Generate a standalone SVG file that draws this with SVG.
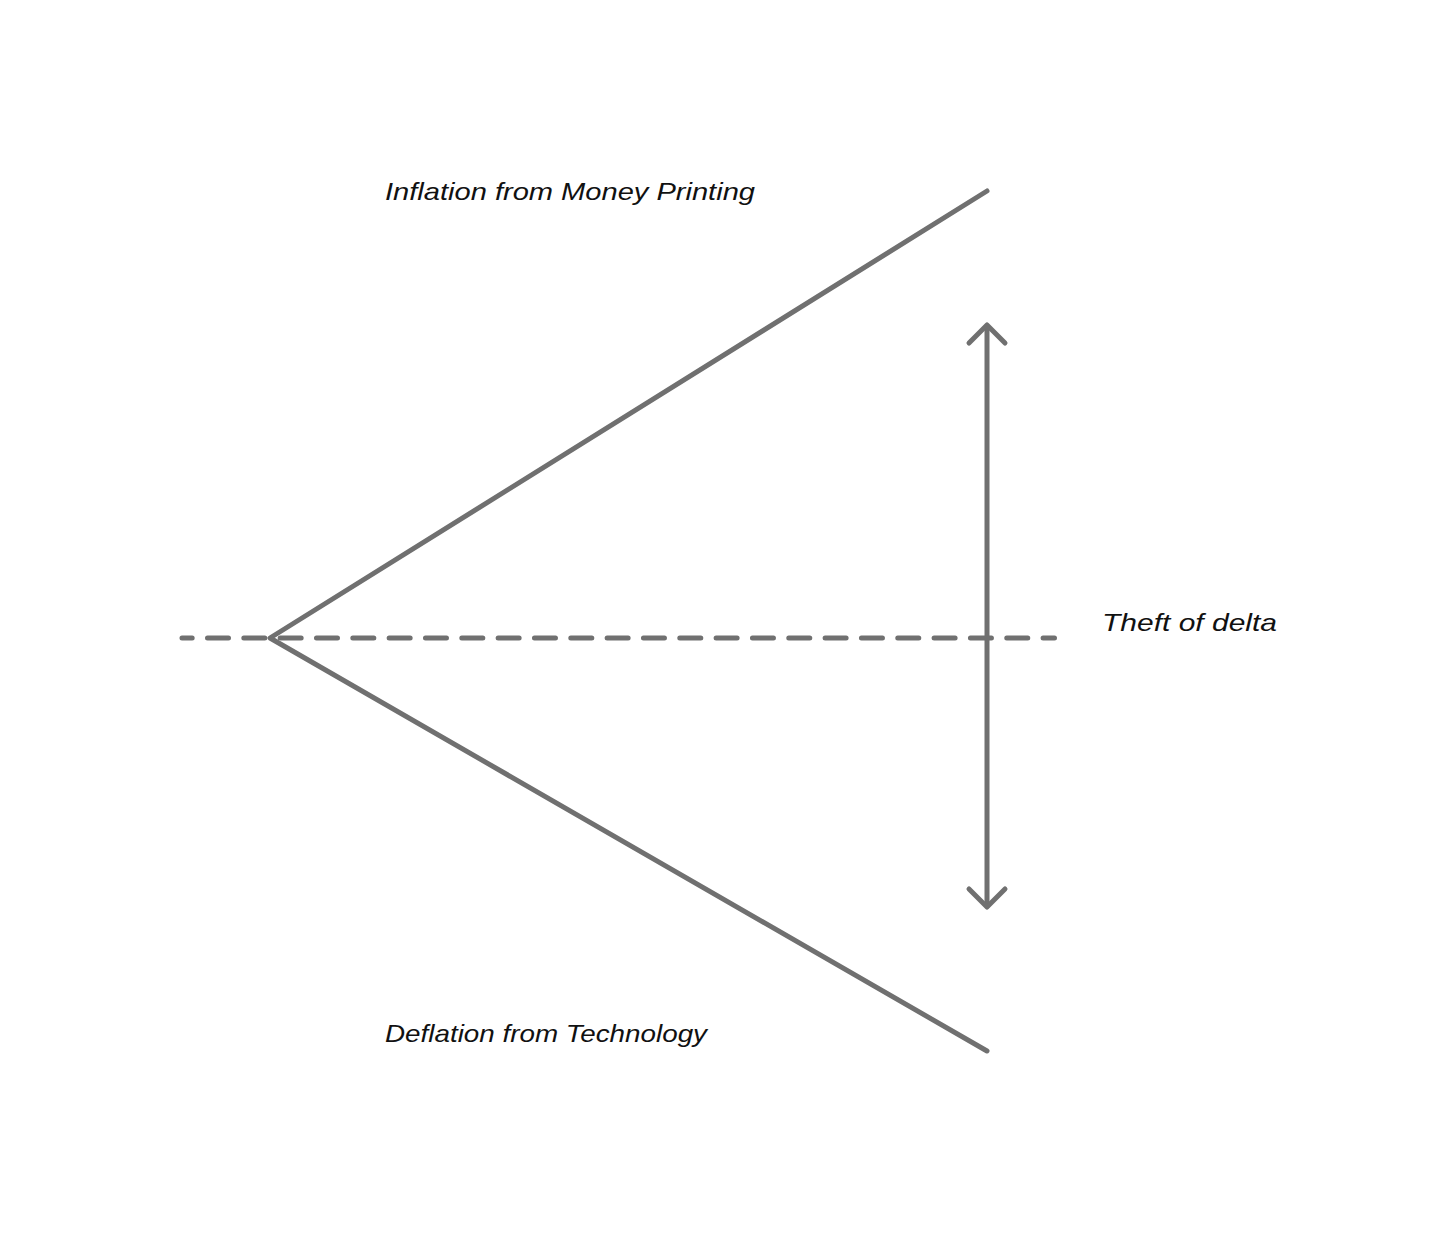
<svg xmlns="http://www.w3.org/2000/svg" width="1456" height="1234" viewBox="0 0 1456 1234">
  <style>
    .ln { stroke: #707070; stroke-width: 5; stroke-linecap: round; stroke-linejoin: round; fill: none; }
    .lbl { font-family: "Liberation Sans", "DejaVu Sans", sans-serif; font-style: italic; font-size: 24px; fill: #111111; }
  </style>
  <rect x="0" y="0" width="1456" height="1234" fill="#ffffff"/>
  <g id="connectors">
    <line id="baseline" class="ln" x1="182" y1="638" x2="1054.5" y2="638" stroke-dasharray="21 15.33" stroke-dashoffset="10.83"/>
    <polyline id="cone" class="ln" points="987,191 270,638 987,1051"/>
    <g id="delta-arrow">
      <line class="ln" x1="987" y1="326" x2="987" y2="906"/>
      <polyline class="ln" points="969,343 987,325 1005,343"/>
      <polyline class="ln" points="969,889 987,907 1005,889"/>
    </g>
  </g>
  <g id="label-inflation">
    <text class="lbl" x="385" y="200" textLength="370" lengthAdjust="spacingAndGlyphs">Inflation from Money Printing</text>
  </g>
  <g id="label-theft">
    <text class="lbl" x="1102" y="631" textLength="175" lengthAdjust="spacingAndGlyphs">Theft of delta</text>
  </g>
  <g id="label-deflation">
    <text class="lbl" x="385" y="1042" textLength="322" lengthAdjust="spacingAndGlyphs">Deflation from Technology</text>
  </g>
</svg>
